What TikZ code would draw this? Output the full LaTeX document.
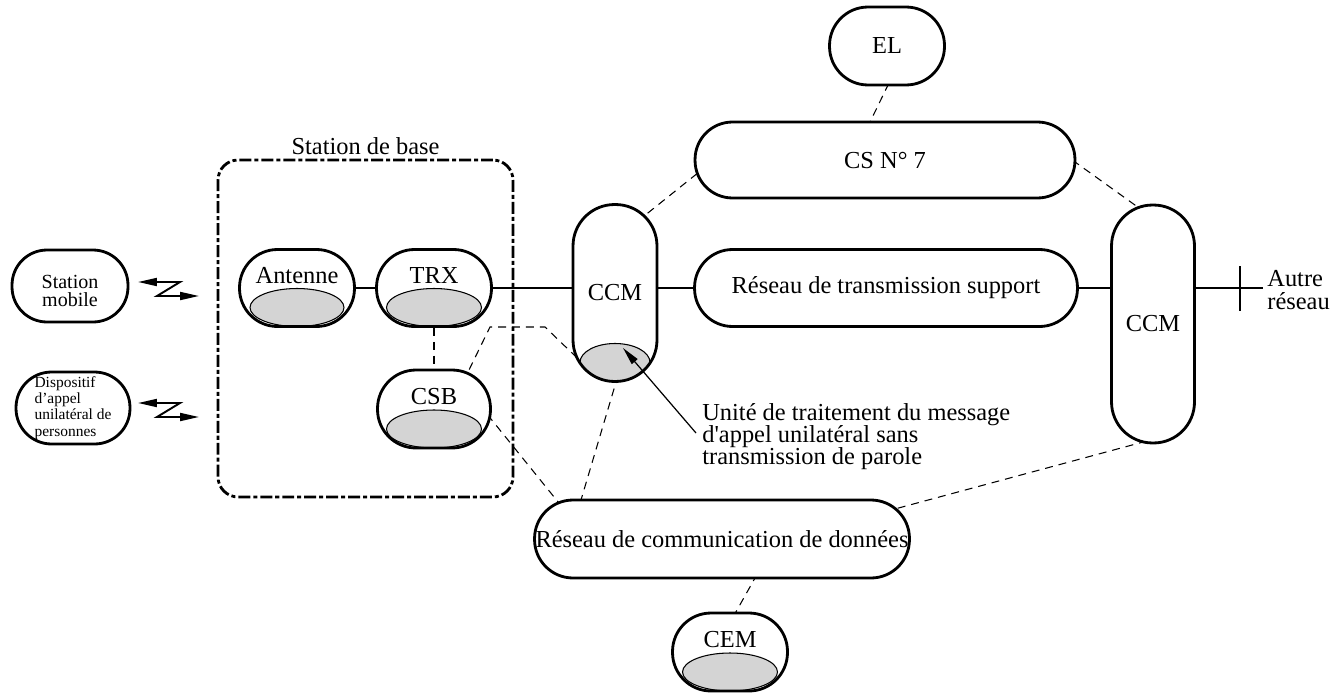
\documentclass[tikz,border=0pt]{standalone}
\usepackage{fontspec}
\setmainfont{Liberation Serif}
\usetikzlibrary{arrows.meta,backgrounds}
\lineskiplimit=-20pt

\tikzset{
  blk/.style={draw, line width=1.6pt, fill=white, inner sep=0pt, align=center, rounded corners=#1},
  grey/.style={path picture={\filldraw[fill=black!17, line width=0.6pt]
      ([yshift=0.38cm]path picture bounding box.south) ellipse (#1 and 0.38cm);}},
  unit/.style={grey=#1, text height=0.35cm, text depth=0.55cm},
  basebox/.style={draw, line width=1.6pt, rounded corners=0.4cm,
      dash pattern=on 6.8pt off 1.7pt on 2.3pt off 1.7pt},
  link/.style={line width=1.1pt},
  sig/.style={line width=0.6pt, dash pattern=on 4.5pt off 3.4pt},
  zig/.style={{Triangle[length=0.38cm,width=0.16cm]}-{Triangle[length=0.38cm,width=0.16cm]}, line width=1.1pt}
}

\begin{document}
\begin{tikzpicture}[x=0.02cm, y=-0.02cm, font=\fontsize{13.9}{11.7}\selectfont]
\useasboundingbox (0,0) rectangle (1335,693);

% terminals
\node[blk=0.7cm, minimum width=2.32cm, minimum height=1.44cm,
      label={[align=center, inner sep=0pt, yshift=-0.1cm, font=\fontsize{11.4}{9.9}\selectfont]center:Station\\mobile}] (mob) at (70,286) {};
\node[blk=0.71cm, minimum width=2.28cm, minimum height=1.44cm, align=left,
      font=\fontsize{8.8}{9.3}\selectfont] (pag) at (73,408) {Dispositif\\d’appel\\unilatéral de\\personnes};

\draw[zig] (138,282) -- (180,282) -- (157,296) -- (199,296);
\draw[zig] (138,403) -- (180,403) -- (157,417) -- (199,417);

% base station
\node[basebox, minimum width=5.9cm, minimum height=6.74cm,
      label={[yshift=-0.05cm]above:Station de base}] (bs) at (365.5,328.5) {};
\node[blk=0.76cm, unit=0.94cm, minimum width=2.3cm, minimum height=1.54cm] (ant) at (297,288) {Antenne};
\node[blk=0.76cm, unit=0.95cm, minimum width=2.3cm, minimum height=1.54cm] (trx) at (434,288) {TRX};
\node[blk=0.77cm, unit=0.95cm, minimum width=2.26cm, minimum height=1.56cm] (csb) at (434,409) {CSB};

% switching and networks
\node[blk=0.83cm, grey=0.7cm, minimum width=1.68cm, minimum height=3.54cm] (ccm1) at (615,293) {CCM};
\node[blk=0.76cm, minimum width=7.66cm, minimum height=1.54cm] (rts) at (886,288) {Réseau de transmission support};
\node[blk=0.75cm, minimum width=7.6cm, minimum height=1.52cm] (cs7) at (885,160) {CS N° 7};
\node[blk=0.77cm, minimum width=2.3cm, minimum height=1.56cm] (el) at (887,46) {EL};
\node[blk=0.82cm, minimum width=1.66cm, minimum height=4.76cm] (ccm2) at (1153,324) {CCM};
\node[blk=0.77cm, minimum width=7.5cm, minimum height=1.56cm] (rcd) at (722,539) {Réseau de communication de données};
\node[blk=0.77cm, unit=0.95cm, minimum width=2.3cm, minimum height=1.56cm] (cem) at (730,652) {CEM};

\node[anchor=west, align=left, inner sep=0pt, font=\fontsize{13.9}{12.6}\selectfont] (other) at (1267,290) {Autre\\réseau};
\node[anchor=west, align=left, inner sep=0.12cm, font=\fontsize{13.9}{12.5}\selectfont] (msg) at (696,437)
  {Unité de traitement du message\\d\textquotesingle appel unilatéral sans\\transmission de parole};

\coordinate (cut) at (1240,288);
\coordinate (edge) at (1263,288);
\coordinate (k1) at (490,327);
\coordinate (k2) at (545,327);

% traffic links
\draw[link] (ant.east) -- (trx.west);
\draw[link] (trx.east) -- (trx.east -| ccm1.west);
\draw[link] (rts.west -| ccm1.east) -- (rts.west);
\draw[link] (rts.east) -- (rts.east -| ccm2.west);
\draw[link] (rts.east -| ccm2.east) -- (edge);
\draw[link] ([yshift=0.44cm]cut) -- ([yshift=-0.46cm]cut);

% signalling links
\begin{scope}[on background layer]
\draw[sig] (trx.south) -- (csb.north);
\draw[sig] ([xshift=0.4cm]el.center) -- ([xshift=-0.67cm]cs7.center);
\draw[sig] ([xshift=0.22cm,yshift=1.25cm]ccm1.center) -- ([xshift=-3.42cm]cs7.center);
\draw[sig] ([xshift=3.3cm,yshift=0.32cm]cs7.center) -- ([xshift=0.14cm,yshift=2.02cm]ccm2.center);
\draw[sig] ([xshift=0.14cm,yshift=-2.27cm]ccm2.center) -- ([xshift=3.16cm,yshift=0.52cm]rcd.center);
\draw[sig] ([xshift=0.14cm,yshift=-1.38cm]ccm1.center) -- ([xshift=-2.94cm,yshift=0.38cm]rcd.center);
\draw[sig] ([xshift=0.72cm,yshift=0.32cm]csb.center) -- ([xshift=-3.06cm,yshift=0.47cm]rcd.center);
\draw[sig] ([xshift=0.46cm,yshift=0.29cm]csb.center) -- (k1) -- (k2) -- ([xshift=-0.59cm,yshift=-1.46cm]ccm1.center);
\draw[sig] ([xshift=0.84cm,yshift=-0.46cm]rcd.center) -- ([xshift=-0.04cm,yshift=0.52cm]cem.center);
\end{scope}

\draw[-{Triangle[length=0.36cm,width=0.15cm]}, line width=0.7pt] ([yshift=0.08cm]msg.west) -- ([xshift=0.16cm,yshift=-1.1cm]ccm1.center);

\end{tikzpicture}
\end{document}
